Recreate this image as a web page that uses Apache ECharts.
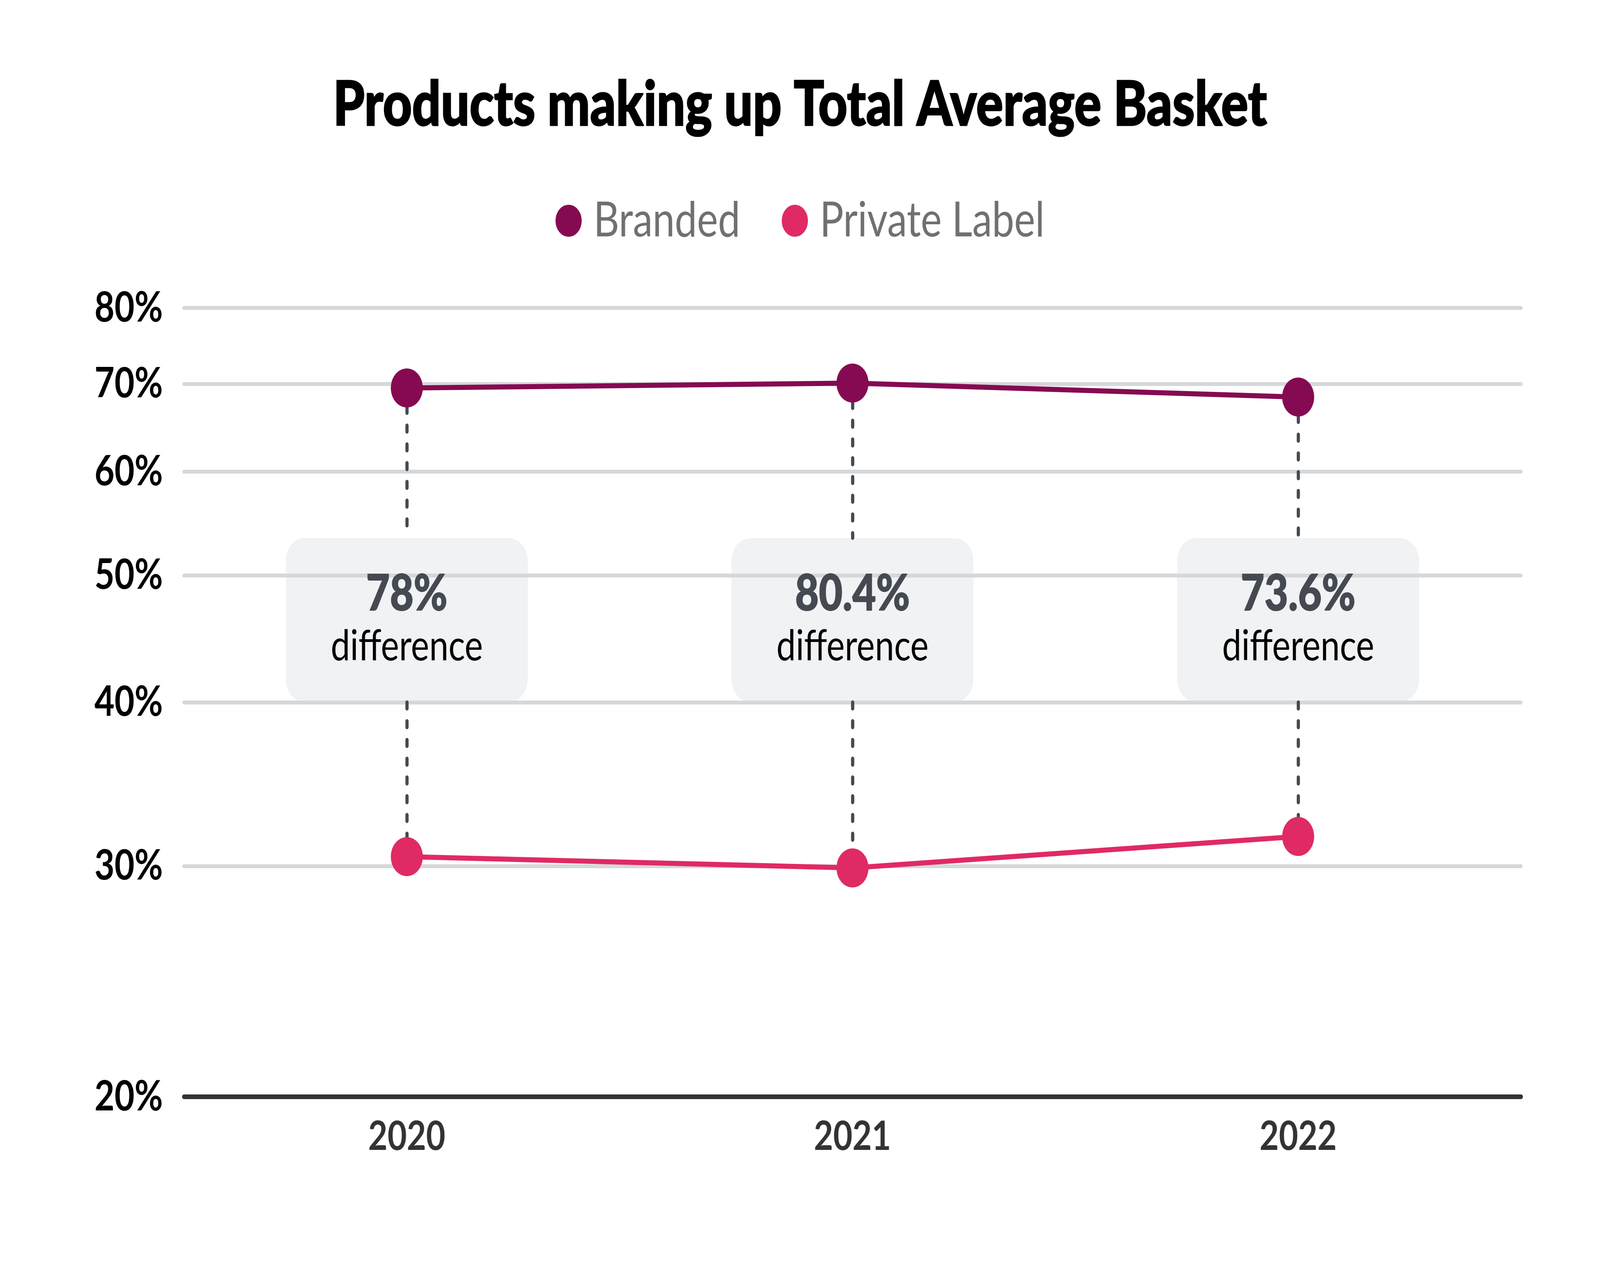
<!DOCTYPE html>
<html>
<head>
<meta charset="utf-8">
<script src="https://cdn.jsdelivr.net/npm/echarts@6/dist/echarts.min.js"></script>
<style>html,body{margin:0;padding:0;background:#fff;overflow:hidden;}#c{width:5001px;height:3235px;transform-origin:0 0;}</style>
</head>
<body>
<div id="c"></div>
<script>
// ---- data ----
const categories = ['2020', '2021', '2022'];
const branded = [69.5, 70.1, 68.4];
const privateLabel = [30.5, 29.9, 31.6];
const diffLabels = ['78%', '80.4%', '73.6%'];
const yTicks = [20, 30, 40, 50, 60, 70, 80];

// ---- layout constants ----
const BOX_TOP = 53.4, BOX_BOTTOM = 40;
const BOX_CENTER = Math.sqrt(BOX_TOP * BOX_BOTTOM);
const FONT = 'Lato, "Noto Sans", sans-serif';

// fit the 5001x3235 drawing into whatever viewport the browser has
const el = document.getElementById('c');
const sx = (window.innerWidth || 5001) / 5001, sy = (window.innerHeight || 3235) / 3235;
el.style.transform = 'scale(' + sx + ',' + sy + ')';

const chart = echarts.init(el, null, {width: 5001, height: 3235, devicePixelRatio: 1});

const gridLines = yTicks.map(v => ({
  yAxis: v,
  lineStyle: v === 20 ? {color: '#333333', width: 12, type: 'solid', cap: 'round'} : {color: '#d5d8db', width: 10, type: 'solid', cap: 'round'},
  label: {formatter: v + '%'}
}));

const dashData = [];
categories.forEach((c, i) => {
  dashData.push([{coord: [c, branded[i]]}, {coord: [c, BOX_TOP]}]);
  dashData.push([{coord: [c, BOX_BOTTOM]}, {coord: [c, privateLabel[i]]}]);
});

chart.setOption({
  backgroundColor: '#ffffff',
  animation: false,
  title: {
    text: 'Products making up Total Average Basket',
    left: 'center',
    top: 186,
    textStyle: {fontFamily: FONT, fontWeight: 900, fontSize: 158, color: '#000000', textBorderColor: '#000000', textBorderWidth: 3}
  },
  legend: {
    data: ['Branded', 'Private Label'],
    top: 498,
    left: 'center',
    icon: 'circle',
    itemWidth: 82,
    itemHeight: 82,
    itemGap: 130,
    textStyle: {fontFamily: FONT, fontSize: 124, color: '#707070', padding: [0, 0, 0, 32]}
  },
  grid: {left: 575, right: 247, top: 788, bottom: 428, containLabel: false},
  xAxis: {
    type: 'category',
    data: categories,
    boundaryGap: true,
    axisLine: {show: false},
    axisTick: {show: false},
    axisLabel: {fontFamily: FONT, fontSize: 104, fontWeight: 700, color: '#333333', margin: 50}
  },
  yAxis: {
    type: 'log',
    logBase: 10,
    min: 20,
    max: 80,
    axisLine: {show: false},
    axisTick: {show: false},
    axisLabel: {show: false},
    splitLine: {show: false}
  },
  series: [
    {
      // annotation box backgrounds
      type: 'scatter',
      z: 1,
      silent: true,
      symbolSize: 0,
      itemStyle: {opacity: 1},
      data: categories.map(() => BOX_CENTER),
      label: {
        show: true,
        position: 'inside',
        formatter: ' ',
        width: 756,
        height: 419,
        backgroundColor: '#f1f2f4',
        borderRadius: 58,
        opacity: 1
      }
    },
    {
      // gridlines and y labels
      type: 'line',
      z: 2,
      silent: true,
      data: [],
      markLine: {
        silent: true,
        symbol: 'none',
        data: gridLines,
        label: {
          show: true,
          position: 'start',
          distance: 66,
          fontFamily: FONT,
          fontSize: 108,
          fontWeight: 700,
          color: '#000000'
        }
      }
    },
    {
      // dotted connectors
      type: 'line',
      z: 3,
      silent: true,
      data: [],
      markLine: {
        silent: true,
        symbol: 'none',
        label: {show: false},
        lineStyle: {color: '#454a52', width: 10, type: [16, 32], cap: 'round', opacity: 1},
        data: dashData
      }
    },
    {
      // annotation texts
      type: 'scatter',
      z: 6,
      silent: true,
      symbolSize: 0,
      itemStyle: {opacity: 1},
      data: categories.map(() => BOX_CENTER),
      label: {
        show: true,
        position: 'inside',
        opacity: 1,
        formatter: p => '{a|' + diffLabels[p.dataIndex] + '}\n{b|difference}',
        rich: {
          a: {fontFamily: FONT, fontSize: 128, fontWeight: 900, color: '#454a52', lineHeight: 136, align: 'center', textBorderColor: '#454a52', textBorderWidth: 2},
          b: {fontFamily: FONT, fontSize: 108, fontWeight: 400, color: '#000000', lineHeight: 132, align: 'center'}
        }
      }
    },
    {
      name: 'Branded',
      type: 'line',
      z: 5,
      data: branded,
      symbol: 'circle',
      symbolSize: 100,
      color: '#850a52',
      lineStyle: {color: '#850a52', width: 13},
      itemStyle: {color: '#850a52'}
    },
    {
      name: 'Private Label',
      type: 'line',
      z: 5,
      data: privateLabel,
      symbol: 'circle',
      symbolSize: 100,
      color: '#e02a63',
      lineStyle: {color: '#e02a63', width: 13},
      itemStyle: {color: '#e02a63'}
    }
  ]
});
</script>
</body>
</html>
